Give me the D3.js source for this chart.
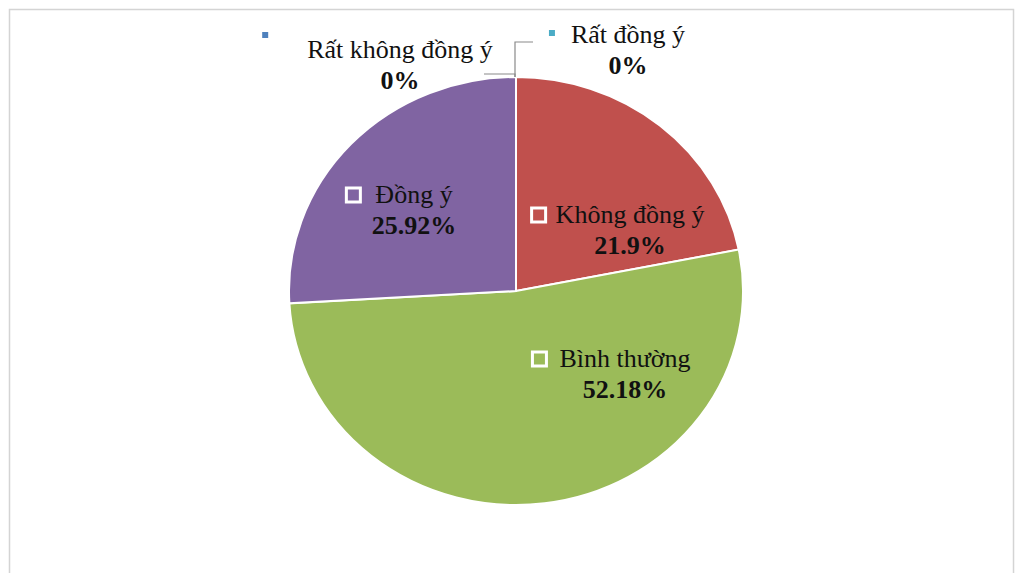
<!DOCTYPE html>
<html>
<head>
<meta charset="utf-8">
<script src="https://cdn.jsdelivr.net/npm/d3@7/dist/d3.min.js"></script>
<style>
  html, body { margin: 0; padding: 0; background: #fff; }
  svg { display: block; }
  text { font-family: "Liberation Serif", "Times New Roman", serif; fill: #111; }
</style>
</head>
<body>
<svg id="chart" width="1016" height="573"></svg>
<script>
// Survey answers, in slice order (clockwise from 12 o'clock)
const categories = ["Rất không đồng ý", "Không đồng ý", "Bình thường", "Đồng ý", "Rất đồng ý"];
const values = [0, 21.9, 52.18, 25.92, 0];
const valueLabels = ["0%", "21.9%", "52.18%", "25.92%", "0%"];
const colors = ["#4F81BD", "#C0504D", "#9BBB59", "#8064A2", "#4BACC6"];

// Label placement relative to the pie centre (line-1 baseline, centred)
const labelOffsets = [[-116, -233], [114, -68], [109, 76], [-102, -88], [112, -248]];
// gap between key square and text for labels drawn inside slices
const keyGaps = [0, 10, 13, 15, 0];

const cx = 516, cy = 291;
const ry = 214, rx = 227;

const svg = d3.select("#chart");

// chart frame
svg.append("rect")
  .attr("x", 9.5).attr("y", 9.5)
  .attr("width", 1004).attr("height", 600)
  .attr("fill", "none")
  .attr("stroke", "#d4d4d4")
  .attr("stroke-width", 1.5);

const data = categories.map((c, i) => ({ cat: c, value: values[i], label: valueLabels[i], color: colors[i], i }));

const pie = d3.pie().value(d => d.value).sort(null);
const arcs = pie(data);
const arc = d3.arc().innerRadius(0).outerRadius(ry);

const pieG = svg.append("g")
  .attr("transform", `translate(${cx},${cy}) scale(${rx / ry},1)`);

pieG.selectAll("path")
  .data(arcs.filter(a => a.data.value > 0))
  .join("path")
  .attr("d", arc)
  .attr("fill", d => d.data.color)
  .attr("stroke", "#fff")
  .attr("stroke-width", 2)
  .attr("vector-effect", "non-scaling-stroke");

// leader lines for the zero-width slices, meeting at the top of the pie
const pieTop = { x: cx, y: cy - ry };
const leaders = [
  [[pieTop.x - 32, pieTop.y - 3], [pieTop.x - 1, pieTop.y - 3], [pieTop.x - 1, pieTop.y]],
  [[pieTop.x + 17, pieTop.y - 35], [pieTop.x - 1, pieTop.y - 35], [pieTop.x - 1, pieTop.y]]
];
svg.selectAll("path.leader")
  .data(leaders)
  .join("path")
  .attr("class", "leader")
  .attr("d", d3.line())
  .attr("fill", "none")
  .attr("stroke", "#8a8a8a")
  .attr("stroke-width", 1.2);

// data labels
const fontSize = 26, lineGap = 31;
data.forEach((d, i) => {
  const [ox, oy] = labelOffsets[i];
  const lx = cx + ox, ly = cy + oy;
  const g = svg.append("g");
  const t1 = g.append("text")
    .attr("x", lx).attr("y", ly)
    .attr("text-anchor", "middle")
    .attr("font-size", fontSize)
    .text(d.cat);
  g.append("text")
    .attr("x", lx).attr("y", ly + lineGap)
    .attr("text-anchor", "middle")
    .attr("font-size", fontSize)
    .attr("font-weight", "bold")
    .text(d.label);
  const w = t1.node().getComputedTextLength();
  if (d.value > 0) {
    // legend key inside the slice
    const s = 14;
    g.append("rect")
      .attr("x", lx - w / 2 - keyGaps[i] - s)
      .attr("y", ly - s - 1)
      .attr("width", s).attr("height", s)
      .attr("fill", d.color)
      .attr("stroke", "#fff")
      .attr("stroke-width", 3);
  } else {
    // small key for empty slices, above-left of the label
    const s = 6;
    g.append("rect")
      .attr("x", i === 0 ? lx - w / 2 - 45 : lx - w / 2 - 22)
      .attr("y", i === 0 ? ly - 26 : ly - 13)
      .attr("width", s).attr("height", s)
      .attr("fill", d.color);
  }
});
</script>
</body>
</html>
